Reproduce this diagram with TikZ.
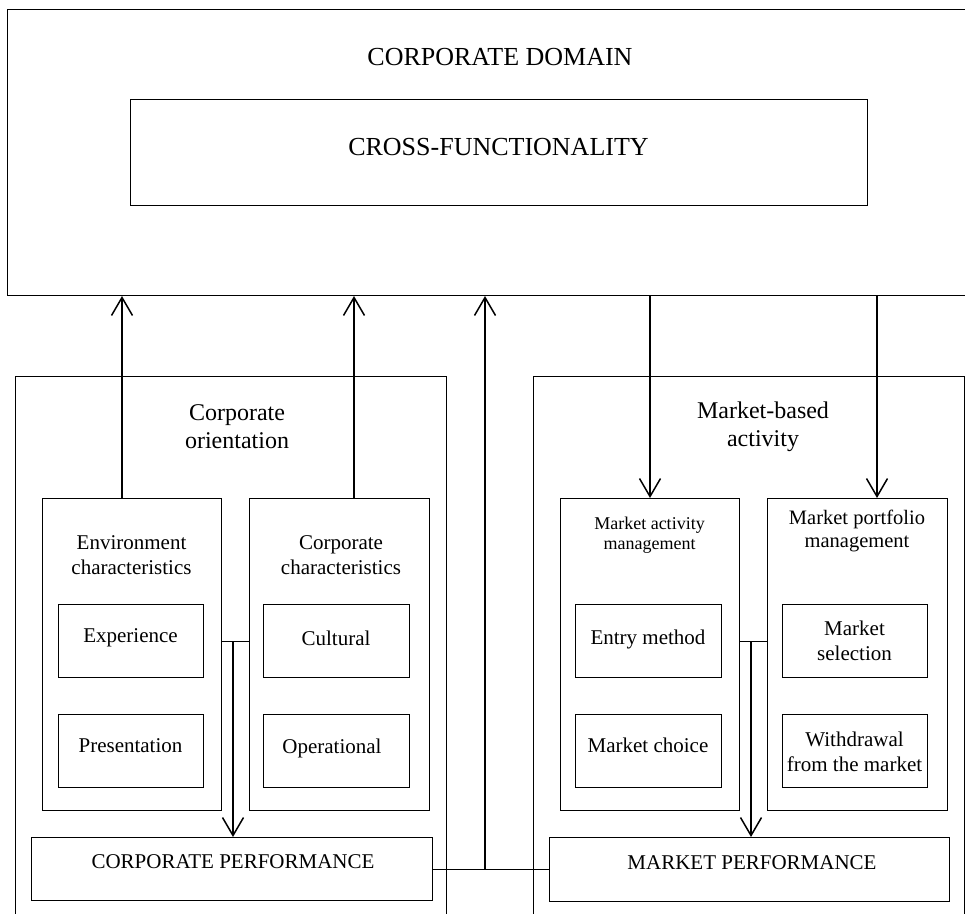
\documentclass[tikz,border=0pt]{standalone}
\usepackage{fontspec}
\setmainfont{Liberation Serif}
\usetikzlibrary{arrows.meta}
\begin{document}
\begin{tikzpicture}[x=1pt,y=-1pt,
  frame/.style={draw, line width=1pt, inner sep=0pt, outer sep=0pt},
  txt/.style={align=center, inner sep=0pt},
  big/.style={txt, font=\fontsize{26}{30}\selectfont},
  mid/.style={txt, font=\fontsize{24}{28}\selectfont},
  norm/.style={txt, font=\fontsize{21}{24.5}\selectfont},
  flow/.style={line width=2pt, -{Straight Barb[length=18pt,width=21pt,line width=1.5pt]}},
  link/.style={line width=1pt}]
\clip (0,0) rectangle (965,913);
\fill[white] (0,0) rectangle (965,913);
% corporate domain (open on the right)
\draw[frame] (975,9) -- (7,9) -- (7,295) -- (975,295);
\coordinate (dom) at (0,296);
\node[big] (tdom) at (500,57) {CORPORATE DOMAIN};
\node[frame, minimum width=737, minimum height=106] (cross) at (498.5,152.5) {};
\node[big] (tcross) at (498.5,147) {CROSS-FUNCTIONALITY};
% big containers
\node[frame, minimum width=431, minimum height=560] (co) at (230.5,656) {};
\node[mid] (tco) at (237,427) {Corporate\\orientation};
\node[frame, minimum width=431, minimum height=560] (mb) at (748.5,656) {};
\node[mid] (tmb) at (763,427) {Market-based\\activity};
% left inner boxes
\node[frame, minimum width=179, minimum height=312] (env) at (131.5,654) {};
\node[norm] (tenv) at (131.5,555) {Environment\\characteristics};
\node[frame, minimum width=180, minimum height=312] (cc) at (339,654) {};
\node[norm] (tcc) at (341,555) {Corporate\\characteristics};
\node[frame, minimum width=145, minimum height=73] (exp) at (130.5,640.5) {};
\node[norm] (texp) at (130.5,638) {Experience};
\node[frame, minimum width=145, minimum height=73] (pres) at (130.5,750.5) {};
\node[norm] (tpres) at (130.5,746) {Presentation};
\node[frame, minimum width=146, minimum height=73] (cul) at (336,640.5) {};
\node[norm] (tcul) at (336,638) {Cultural};
\node[frame, minimum width=146, minimum height=73] (ope) at (336,750.5) {};
\node[norm] (tope) at (332,748) {Operational};
% right inner boxes
\node[frame, minimum width=179, minimum height=312] (mam) at (649.5,654) {};
\node[txt, font=\fontsize{18}{20.5}\selectfont] (tmam) at (649.5,535) {Market activity\\management};
\node[frame, minimum width=180, minimum height=312] (mpm) at (857,654) {};
\node[txt, font=\fontsize{20.5}{23.5}\selectfont] (tmpm) at (857,531) {Market portfolio\\management};
\node[frame, minimum width=146, minimum height=73] (ent) at (648,640.5) {};
\node[norm] (tent) at (648,639) {Entry method};
\node[frame, minimum width=146, minimum height=73] (mch) at (648,750.5) {};
\node[norm] (tmch) at (648,745) {Market choice};
\node[frame, minimum width=145, minimum height=73] (msel) at (854.5,640.5) {};
\node[norm] (tmsel) at (854.5,641) {Market\\selection};
\node[frame, minimum width=145, minimum height=73] (wd) at (854.5,750.5) {};
\node[norm] (twd) at (854.5,752) {Withdrawal\\from the market};
% performance boxes
\node[frame, minimum width=401, minimum height=63] (cperf) at (231.5,868.5) {};
\node[norm] (tcperf) at (233,862) {CORPORATE PERFORMANCE};
\node[frame, minimum width=400, minimum height=64] (mperf) at (749,869) {};
\node[norm] (tmperf) at (752,863) {MARKET PERFORMANCE};
% arrows up to the domain
\coordinate (x1) at (122,0);
\coordinate (x2) at (354,0);
\coordinate (x3) at (485,0);
\coordinate (x4) at (650,0);
\coordinate (x5) at (877,0);
\draw[flow] (x1 |- env.north) -- (x1 |- dom);
\draw[flow] (x2 |- cc.north) -- (x2 |- dom);
\coordinate (j) at (485,869);
\draw[link] (cperf.east |- j) -- (mperf.west |- j);
\draw[flow] (j) -- (x3 |- dom);
% arrows down from the domain
\draw[flow] (x4 |- dom) -- (x4 |- mam.north);
\draw[flow] (x5 |- dom) -- (x5 |- mpm.north);
% links between sub-boxes and arrows to performance
\coordinate (lj) at (233,641);
\draw[link] (env.east |- lj) -- (cc.west |- lj);
\draw[flow] (lj) -- (lj |- cperf.north);
\coordinate (rj) at (751,641);
\draw[link] (mam.east |- rj) -- (mpm.west |- rj);
\draw[flow] (rj) -- (rj |- mperf.north);
\end{tikzpicture}
\end{document}
